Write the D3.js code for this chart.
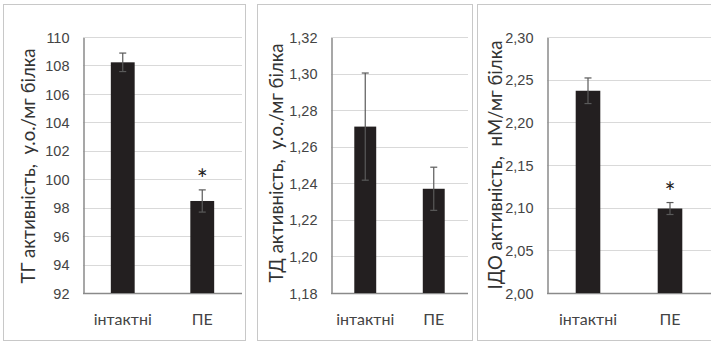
<!DOCTYPE html>
<html>
<head>
<meta charset="utf-8">
<script src="https://cdn.jsdelivr.net/npm/d3@7.9.0/dist/d3.min.js"></script>
<style>
  body { margin: 0; background: #fff; }
  svg { display: block; font-family: Lato, "Open Sans", sans-serif; }
</style>
</head>
<body>
<svg id="chart" width="711" height="342"></svg>
<script>
const categories = ['інтактні', 'ПЕ'];

const tgMeans = [108.22, 98.47];
const tgErrors = [0.65, 0.78];
const tgTicks = [92, 94, 96, 98, 100, 102, 104, 106, 108, 110];

const tdMeans = [1.271, 1.237];
const tdErrors = [0.0293, 0.0118];
const tdTicks = [1.18, 1.20, 1.22, 1.24, 1.26, 1.28, 1.30, 1.32];

const idoMeans = [2.237, 2.099];
const idoErrors = [0.015, 0.007];
const idoTicks = [2.00, 2.05, 2.10, 2.15, 2.20, 2.25, 2.30];

const starred = [false, true];

const svg = d3.select('#chart');

const panels = [
  { means: tgMeans, errors: tgErrors, ticks: tgTicks, stars: starred, fmt: d3.format('d'),
    label: 'ТГ активність,  у.о./мг білка',
    box: [3, 4, 245, 340], plot: [83, 37, 242, 293], bw: 0.3, labelX: 27, labelY: 166, labelLen: 235 },
  { means: tdMeans, errors: tdErrors, ticks: tdTicks, stars: [false, false], fmt: d => d3.format('.2f')(d).replace('.', ','),
    label: 'ТД активність,  у.о./мг білка',
    box: [257, 4, 472, 340], plot: [331, 37, 468, 293], bw: 0.32, labelX: 275, labelY: 163, labelLen: 239 },
  { means: idoMeans, errors: idoErrors, ticks: idoTicks, stars: starred, fmt: d => d3.format('.2f')(d).replace('.', ','),
    label: 'ІДО активність,  нМ/мг білка',
    box: [477, 4, 716, 340], plot: [547, 37, 711, 293], bw: 0.3, labelX: 494, labelY: 165, labelLen: 249 }
];

panels.forEach(p => {
  const [bx0, by0, bx1, by1] = p.box;
  svg.append('rect')
    .attr('x', bx0 + 0.5).attr('y', by0 + 0.5)
    .attr('width', bx1 - bx0).attr('height', by1 - by0)
    .attr('fill', '#fff').attr('stroke', '#c8c8c8');

  const [x0, y0, x1, y1] = p.plot;
  const y = d3.scaleLinear()
    .domain([p.ticks[0], p.ticks[p.ticks.length - 1]])
    .range([y1, y0]);
  const x = d3.scaleBand()
    .domain(categories)
    .range([x0, x1])
    .paddingInner(1 - p.bw)
    .paddingOuter((1 - p.bw) / 2);

  const g = svg.append('g');

  // gridlines
  g.selectAll('.grid')
    .data(p.ticks.slice(1))
    .join('line')
    .attr('x1', x0).attr('x2', x1)
    .attr('y1', d => Math.round(y(d)) + 0.5)
    .attr('y2', d => Math.round(y(d)) + 0.5)
    .attr('stroke', '#d9d9d9');

  // y axis
  const yAxis = d3.axisLeft(y).tickValues(p.ticks).tickFormat(p.fmt).tickSize(0).tickPadding(14);
  const ya = g.append('g').attr('transform', `translate(${x0 + 0.5},0.5)`).call(yAxis);
  ya.select('.domain').attr('stroke', '#8a8a8a').attr('stroke-width', 1.5);
  ya.selectAll('text').attr('font-size', 14.5).attr('fill', '#444');

  // x axis line
  g.append('line')
    .attr('x1', x0).attr('x2', x1)
    .attr('y1', y1 + 0.5).attr('y2', y1 + 0.5)
    .attr('stroke', '#8a8a8a').attr('stroke-width', 1.5);

  // bars
  g.selectAll('.bar')
    .data(categories)
    .join('rect')
    .attr('x', d => x(d))
    .attr('width', x.bandwidth())
    .attr('y', (d, i) => y(p.means[i]))
    .attr('height', (d, i) => y1 - y(p.means[i]))
    .attr('fill', '#231f20');

  // error bars
  categories.forEach((c, i) => {
    const cx = x(c) + x.bandwidth() / 2;
    const top = y(p.means[i] + p.errors[i]);
    const bot = y(p.means[i] - p.errors[i]);
    const eg = g.append('g').attr('stroke', '#5a5a5a').attr('stroke-width', 1.2);
    eg.append('line').attr('x1', cx).attr('x2', cx).attr('y1', top).attr('y2', bot);
    eg.append('line').attr('x1', cx - 3.5).attr('x2', cx + 3.5).attr('y1', top).attr('y2', top);
    eg.append('line').attr('x1', cx - 3.5).attr('x2', cx + 3.5).attr('y1', bot).attr('y2', bot);
    if (p.stars[i]) {
      g.append('text')
        .attr('x', cx).attr('y', top - 1)
        .attr('text-anchor', 'middle')
        .attr('font-size', 26).attr('fill', '#222')
        .text('*');
    }
  });

  // category labels
  g.selectAll('.cat')
    .data(categories)
    .join('text')
    .attr('x', d => x(d) + x.bandwidth() / 2)
    .attr('y', 325)
    .attr('text-anchor', 'middle')
    .attr('font-size', 16).attr('fill', '#444')
    .text(d => d);

  // y label
  g.append('text')
    .attr('transform', `translate(${p.labelX},${p.labelY}) rotate(-90)`)
    .attr('text-anchor', 'middle')
    .attr('dominant-baseline', 'central')
    .attr('font-size', 19).attr('fill', '#333')
    .attr('textLength', p.labelLen)
    .attr('lengthAdjust', 'spacingAndGlyphs')
    .style('white-space', 'pre')
    .text(p.label);
});
</script>
</body>
</html>
